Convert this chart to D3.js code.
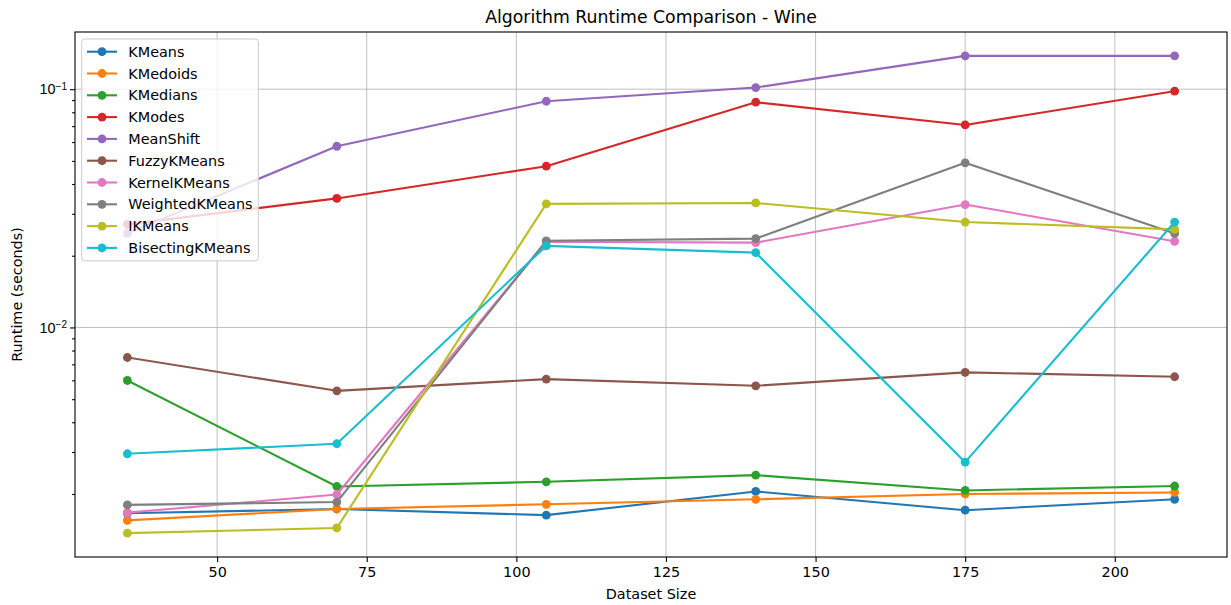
<!DOCTYPE html>
<html>
<head>
<meta charset="utf-8">
<script src="https://cdn.jsdelivr.net/npm/d3@7"></script>
<style>
  body { margin: 0; background: #fff; }
  svg { font-family: "DejaVu Sans", sans-serif; }
  .grid line { stroke: #b0b0b0; stroke-width: 0.8; }
</style>
</head>
<body>
<svg id="chart"></svg>
<script>
// dataset sizes (x) and runtimes in seconds per algorithm
var sizes = [35, 70, 105, 140, 175, 210];
var algorithms = ['KMeans', 'KMedoids', 'KMedians', 'KModes', 'MeanShift', 'FuzzyKMeans',
    'KernelKMeans', 'WeightedKMeans', 'IKMeans', 'BisectingKMeans'];
var kmeans = [0.00166, 0.00173, 0.00163, 0.00205, 0.00171, 0.00190];
var kmedoids = [0.00155, 0.00173, 0.00181, 0.00190, 0.00200, 0.00203];
var kmedians = [0.00599, 0.00215, 0.00225, 0.00240, 0.00207, 0.00216];
var kmodes = [0.0271, 0.0348, 0.0475, 0.0882, 0.0708, 0.0981];
var meanShift = [0.0248, 0.0576, 0.0890, 0.1016, 0.1380, 0.1380];
var fuzzyKMeans = [0.00748, 0.00542, 0.00607, 0.00569, 0.00648, 0.00621];
var kernelKMeans = [0.00167, 0.00199, 0.0229, 0.0227, 0.0328, 0.0230];
var weightedKMeans = [0.00180, 0.00185, 0.0231, 0.0236, 0.0491, 0.0248];
var ikMeans = [0.00137, 0.00144, 0.0330, 0.0333, 0.0277, 0.0258];
var bisectingKMeans = [0.00295, 0.00325, 0.0220, 0.0206, 0.00272, 0.0277];
var yMajorTicks = [0.01, 0.1];
var xTicks = [50, 75, 100, 125, 150, 175, 200];

var runtimes = [kmeans, kmedoids, kmedians, kmodes, meanShift, fuzzyKMeans,
    kernelKMeans, weightedKMeans, ikMeans, bisectingKMeans];
var colors = ['#1f77b4', '#ff7f0e', '#2ca02c', '#d62728', '#9467bd',
    '#8c564b', '#e377c2', '#7f7f7f', '#bcbd22', '#17becf'];

var width = 1231, height = 605;
var margin = {top: 32, right: 4, bottom: 48, left: 75};
var plotW = width - margin.left - margin.right;
var plotH = height - margin.top - margin.bottom;
var fs = 14.4;

var svg = d3.select('#chart').attr('width', width).attr('height', height);
var g = svg.append('g').attr('transform', 'translate(' + margin.left + ',' + margin.top + ')');

// matplotlib style 5% margins
var xMin = d3.min(sizes), xMax = d3.max(sizes), xPad = (xMax - xMin) * 0.05;
var x = d3.scaleLinear().domain([xMin - xPad, xMax + xPad]).range([0, plotW]);

var allVals = d3.merge(runtimes);
var lMin = Math.log10(d3.min(allVals)), lMax = Math.log10(d3.max(allVals));
var lPad = (lMax - lMin) * 0.05;
var y = d3.scaleLog().domain([Math.pow(10, lMin - lPad), Math.pow(10, lMax + lPad)]).range([plotH, 0]);

// minor tick values inside the domain
var yMinorTicks = [];
[0.001, 0.01, 0.1].forEach(function (base) {
    for (var k = 2; k <= 9; k++) {
        var v = base * k;
        if (v >= y.domain()[0] && v <= y.domain()[1]) yMinorTicks.push(v);
    }
});

// grid
g.append('g').attr('class', 'grid')
    .selectAll('line').data(xTicks).enter().append('line')
    .attr('x1', function (d) { return x(d); }).attr('x2', function (d) { return x(d); })
    .attr('y1', 0).attr('y2', plotH);
g.append('g').attr('class', 'grid')
    .selectAll('line').data(yMajorTicks).enter().append('line')
    .attr('y1', function (d) { return y(d); }).attr('y2', function (d) { return y(d); })
    .attr('x1', 0).attr('x2', plotW);

// lines and markers
var line = d3.line()
    .x(function (d, i) { return x(sizes[i]); })
    .y(function (d) { return y(d); });

runtimes.forEach(function (series, s) {
    var sg = g.append('g');
    sg.append('path').datum(series)
        .attr('d', line)
        .attr('fill', 'none')
        .attr('stroke', colors[s])
        .attr('stroke-width', 2.1)
        .attr('stroke-linejoin', 'round')
        .attr('stroke-linecap', 'square');
    sg.selectAll('circle').data(series).enter().append('circle')
        .attr('cx', function (d, i) { return x(sizes[i]); })
        .attr('cy', function (d) { return y(d); })
        .attr('r', 4.4)
        .attr('fill', colors[s]);
});

// axes
var xAxis = g.append('g').attr('transform', 'translate(0,' + plotH + ')')
    .call(d3.axisBottom(x).tickValues(xTicks).tickSize(5).tickPadding(4.5).tickFormat(d3.format('d')));
var yAxis = g.append('g')
    .call(d3.axisLeft(y).tickValues(yMajorTicks).tickSize(5).tickFormat(function () { return ''; }));
g.append('g')
    .call(d3.axisLeft(y).tickValues(yMinorTicks).tickSize(2.9).tickFormat(function () { return ''; }))
    .call(function (a) { a.select('.domain').remove(); });

[xAxis, yAxis].forEach(function (a) {
    a.select('.domain').remove();
    a.selectAll('text').attr('font-size', fs).attr('fill', '#000')
        .attr('font-family', '"DejaVu Sans", sans-serif');
});
g.selectAll('.tick line').attr('stroke', '#000').attr('stroke-width', 1.1);

// superscript labels for the log axis
yAxis.selectAll('.tick').each(function (d) {
    var t = d3.select(this).append('text')
        .attr('x', -8).attr('dy', '0.32em')
        .attr('text-anchor', 'end')
        .attr('font-size', fs).attr('fill', '#000');
    t.append('tspan').text('10');
    t.append('tspan').attr('dy', '-0.45em').attr('font-size', 10)
        .text('\u2212' + Math.round(-Math.log10(d)));
});

// frame
g.append('rect').attr('width', plotW).attr('height', plotH)
    .attr('fill', 'none').attr('stroke', '#000').attr('stroke-width', 1.1);

// title and axis labels
svg.append('text').attr('x', margin.left + plotW / 2).attr('y', 23)
    .attr('text-anchor', 'middle').attr('font-size', 17.3).text('Algorithm Runtime Comparison - Wine');
svg.append('text').attr('x', margin.left + plotW / 2).attr('y', 599)
    .attr('text-anchor', 'middle').attr('font-size', fs).text('Dataset Size');
svg.append('text').attr('transform', 'translate(22,' + (margin.top + plotH / 2) + ') rotate(-90)')
    .attr('text-anchor', 'middle').attr('font-size', fs).text('Runtime (seconds)');

// legend
var legend = g.append('g').attr('transform', 'translate(6.7,7)');
var rowH = 21.8;
legend.append('rect')
    .attr('width', 176.6).attr('height', algorithms.length * rowH + 3.8)
    .attr('rx', 3).attr('fill', '#fff').attr('fill-opacity', 0.8)
    .attr('stroke', '#cccccc').attr('stroke-width', 1);
var rows = legend.selectAll('g.row').data(algorithms).enter().append('g')
    .attr('class', 'row')
    .attr('transform', function (d, i) { return 'translate(0,' + (12.7 + i * rowH) + ')'; });
rows.append('line').attr('x1', 5.3).attr('x2', 35.3)
    .attr('stroke', function (d, i) { return colors[i]; }).attr('stroke-width', 2.1);
rows.append('circle').attr('cx', 20.3).attr('r', 4.4)
    .attr('fill', function (d, i) { return colors[i]; });
rows.append('text').attr('x', 46.6).attr('dy', '0.36em')
    .attr('font-size', fs).text(function (d) { return d; });
</script>
</body>
</html>
